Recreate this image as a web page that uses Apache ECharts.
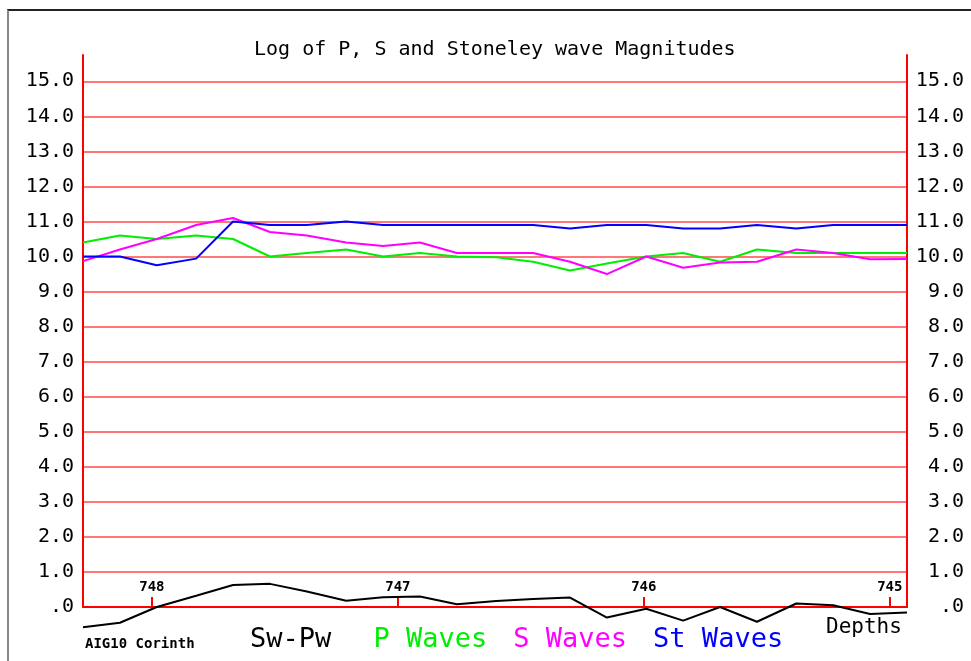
<!DOCTYPE html>
<html>
<head>
<meta charset="utf-8">
<title>Log of P, S and Stoneley wave Magnitudes</title>
<script src="https://cdn.jsdelivr.net/npm/echarts@6.0.0/dist/echarts.min.js"></script>
<style>
  html, body { margin: 0; padding: 0; background: #fff; }
  #chart { position: absolute; left: 0; top: 0; width: 971px; height: 661px; }
  .frame {
    position: absolute; left: 7px; top: 9px; width: 1200px; height: 900px;
    border-left: 2px solid #888; border-top: 2px solid #222;
    pointer-events: none;
  }
</style>
</head>
<body>
<div class="frame"></div>
<div id="chart"></div>
<script>
// depth of each sample (m), left to right
const depths = [748.28, 748.13, 747.98, 747.82, 747.67, 747.52, 747.37, 747.21, 747.06, 746.91, 746.76, 746.60,
  746.45, 746.30, 746.15, 745.99, 745.84, 745.69, 745.54, 745.38, 745.23, 745.08, 744.93]

const swPw = [-0.58, -0.45, 0.0, 0.32, 0.63, 0.66, 0.44, 0.18, 0.28, 0.30, 0.08, 0.17,
  0.23, 0.27, -0.30, -0.05, -0.39, 0.0, -0.42, 0.10, 0.05, -0.20, -0.16]
const pWaves = [10.4, 10.6, 10.5, 10.6, 10.5, 10.0, 10.1, 10.2, 10.0, 10.1, 10.0, 9.98,
  9.85, 9.6, 9.8, 10.0, 10.1, 9.85, 10.2, 10.1, 10.1, 10.1, 10.1]
const sWaves = [9.87, 10.2, 10.5, 10.9, 11.1, 10.7, 10.6, 10.4, 10.3, 10.4, 10.1, 10.1,
  10.1, 9.85, 9.5, 10.0, 9.68, 9.83, 9.85, 10.2, 10.1, 9.92, 9.93]
const stWaves = [10.0, 10.0, 9.75, 9.94, 11.0, 10.9, 10.9, 11.0, 10.9, 10.9, 10.9, 10.9,
  10.9, 10.8, 10.9, 10.9, 10.8, 10.8, 10.9, 10.8, 10.9, 10.9, 10.9]

const yTicks = [0, 1, 2, 3, 4, 5, 6, 7, 8, 9, 10, 11, 12, 13, 14, 15]
const depthTicks = [745, 746, 747, 748]

const mono = 'DejaVu Sans Mono'

const toPoints = (vals) => depths.map((d, i) => [d, vals[i]])

const yLabel = (v) => (v === 0 ? '.0' : v.toFixed(1))

const makeYAxis = (pos) => ({
  type: 'value',
  position: pos,
  min: 0,
  max: 15.75,
  interval: 1,
  axisLine: { show: true, lineStyle: { color: '#ff0000', width: 2 } },
  axisTick: { show: false, customValues: yTicks },
  axisLabel: {
    customValues: yTicks,
    formatter: yLabel,
    fontFamily: mono,
    fontSize: 20,
    color: '#000',
    align: 'right',
    margin: pos === 'left' ? 9 : 57
  },
  splitLine: {
    show: pos === 'left',
    lineStyle: { color: '#ff4a4a', width: 1.5 }
  }
})

const chart = echarts.init(document.getElementById('chart'))

chart.setOption({
  animation: false,
  backgroundColor: 'transparent',
  title: [
    {
      text: 'Log of P, S and Stoneley wave Magnitudes',
      left: 254,
      top: 40,
      padding: 0,
      textStyle: { fontFamily: mono, fontSize: 20, fontWeight: 'normal', color: '#000' }
    },
    {
      text: 'AIG10 Corinth',
      left: 85,
      top: 637,
      padding: 0,
      textStyle: { fontFamily: mono, fontSize: 14, fontWeight: 'bold', color: '#000' }
    },
    {
      text: 'Depths',
      left: 826,
      top: 617,
      padding: 0,
      textStyle: { fontFamily: mono, fontSize: 21, fontWeight: 'normal', color: '#000' }
    }
  ],
  legend: {
    left: 245,
    top: 626,
    padding: 0,
    itemWidth: 0,
    itemHeight: 14,
    itemGap: 21,
    icon: 'none',
    selectedMode: false,
    formatter: (name) => (name === 'Sw-Pw' ? name + ' ' : name),
    textStyle: { fontFamily: mono, fontSize: 27 },
    data: [
      { name: 'Sw-Pw', textStyle: { color: '#000000' } },
      { name: 'P Waves', textStyle: { color: '#00ee00' } },
      { name: 'S Waves', textStyle: { color: '#ff00ff' } },
      { name: 'St Waves', textStyle: { color: '#0000ff' } }
    ]
  },
  grid: { left: 83, right: 64, top: 55, bottom: 54 },
  xAxis: {
    type: 'value',
    inverse: true,
    min: depths[depths.length - 1],
    max: depths[0],
    axisLine: { show: true, onZero: false, lineStyle: { color: '#ff0000', width: 2 } },
    axisTick: {
      show: true,
      inside: true,
      length: 10,
      customValues: depthTicks,
      lineStyle: { color: '#ff0000', width: 2 }
    },
    axisLabel: {
      inside: true,
      customValues: depthTicks,
      margin: 13,
      formatter: (v) => String(Math.round(v)),
      fontFamily: mono,
      fontSize: 14,
      fontWeight: 'bold',
      color: '#000'
    },
    splitLine: { show: false }
  },
  yAxis: [makeYAxis('left'), makeYAxis('right')],
  series: [
    { name: 'Sw-Pw', data: toPoints(swPw), color: '#000000' },
    { name: 'P Waves', data: toPoints(pWaves), color: '#00ee00' },
    { name: 'S Waves', data: toPoints(sWaves), color: '#ff00ff' },
    { name: 'St Waves', data: toPoints(stWaves), color: '#0000ff' }
  ].map((s) => ({
    name: s.name,
    type: 'line',
    data: s.data,
    symbol: 'none',
    clip: false,
    itemStyle: { color: s.color },
    lineStyle: { color: s.color, width: 2 }
  }))
})
</script>
</body>
</html>
